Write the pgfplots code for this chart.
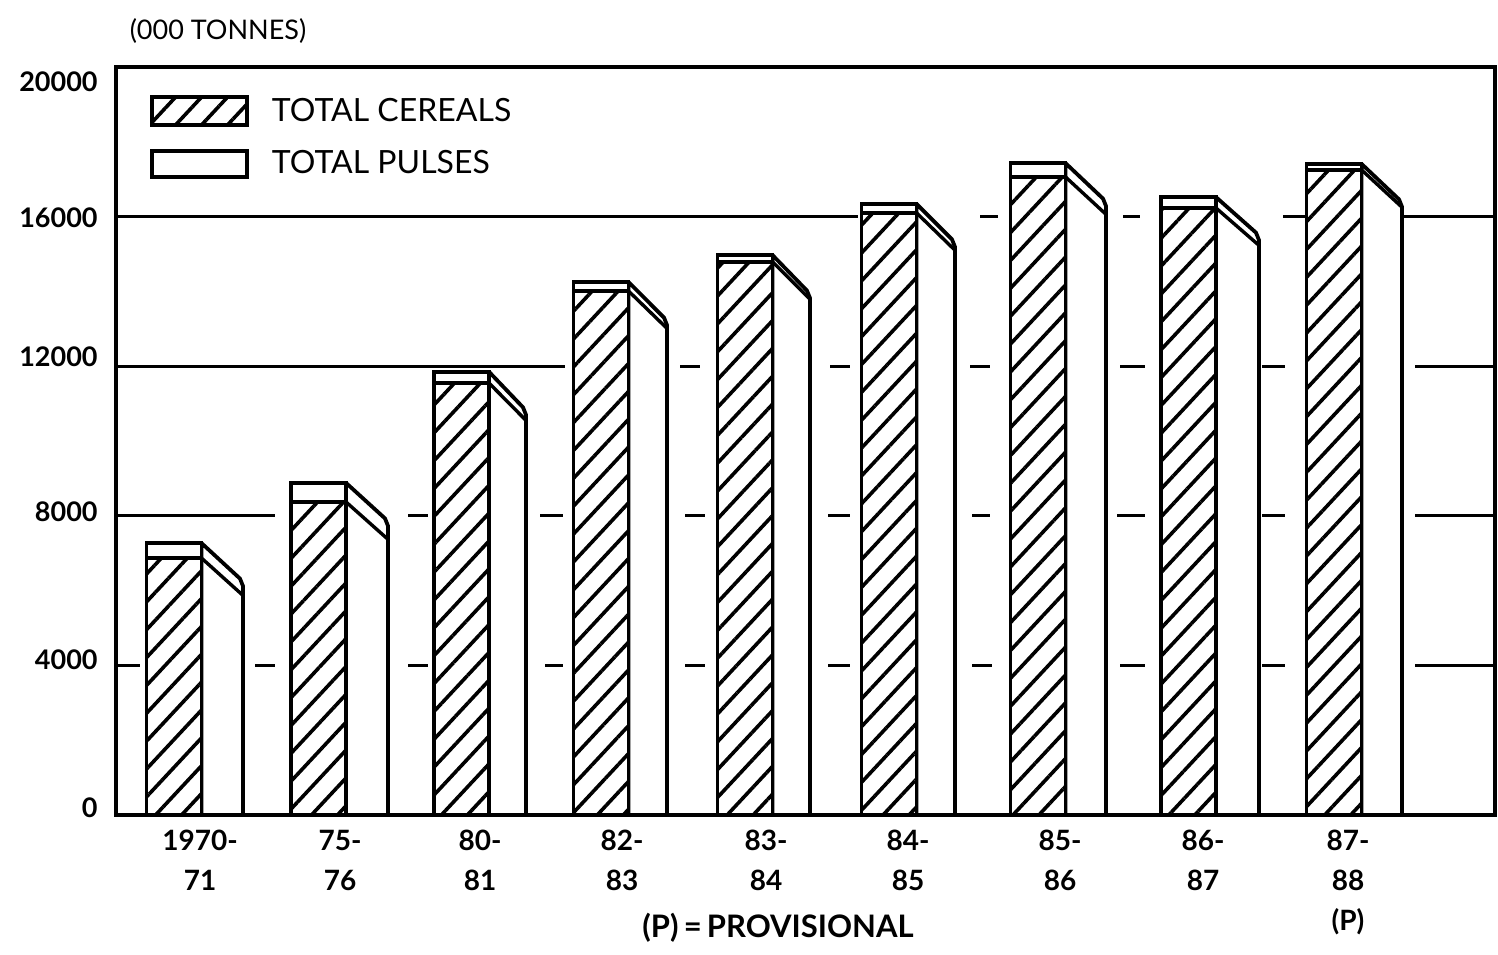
\documentclass[border=0pt]{standalone}
\usepackage{fontspec}
\setmainfont{Lato}
\usepackage{pgfplots}
\pgfplotsset{compat=1.18}
\usetikzlibrary{patterns.meta}
\tikzset{hatch/.style={fill=white, postaction={pattern={Lines[angle=47,distance=9.5pt,line width=1.8pt]}}}}
\begin{document}
\begin{tikzpicture}
\useasboundingbox (-58pt,-69.5pt) rectangle (691pt,407.5pt);
\begin{axis}[
  at={(0,0)}, anchor=south west,
  scale only axis, width=689.5pt, height=374pt,
  xmin=116, xmax=1495, ymin=0, ymax=20000,
  scaled y ticks=false, scaled x ticks=false,
  axis line style={line width=1.7pt},
  clip=false,
  major tick length=0pt,
  xtick={200,340,480,622,766,908,1060,1203,1348},
  xticklabels={{1970-\\71},{75-\\76},{80-\\81},{82-\\83},{83-\\84},{84-\\85},{85-\\86},{86-\\87},{87-\\88\\(P)}},
  xticklabel style={align=center, font=\bfseries\fontsize{14}{20}\selectfont, yshift=-4pt},
  ytick={187,4144,8102,12246,15963,19599},
  yticklabels={0,4000,8000,12000,16000,20000},
  yticklabel style={font=\bfseries\fontsize{13.5}{14}\selectfont, inner sep=0pt, xshift=-9pt},
  legend style={draw=none, fill=none, at={(axis cs:150,19251)}, anchor=north west, inner sep=0pt, row sep=11pt,
    /tikz/every odd column/.append style={column sep=11.5pt},
    nodes={inner sep=0pt, anchor=west, font=\fontsize{16}{16}\selectfont}},
  legend cell align=left,
]
% grid line segments (between the bars)
\addplot[line width=1.5pt, forget plot, unbounded coords=jump] coordinates {
 (116,4000) (140,4000) (141,nan) (255,4000) (275,4000) (276,nan) (408,4000) (428,4000) (429,nan)
 (545,4000) (563,4000) (564,nan) (685,4000) (705,4000) (706,nan) (828,4000) (850,4000) (851,nan)
 (972,4000) (992,4000) (993,nan) (1120,4000) (1145,4000) (1146,nan) (1262,4000) (1285,4000) (1286,nan)
 (1415,4000) (1495,4000)};
\addplot[line width=1.5pt, forget plot, unbounded coords=jump] coordinates {
 (116,8000) (275,8000) (276,nan) (408,8000) (428,8000) (429,nan)
 (540,8000) (563,8000) (564,nan) (685,8000) (705,8000) (706,nan) (828,8000) (850,8000) (851,nan)
 (972,8000) (990,8000) (991,nan) (1117,8000) (1145,8000) (1146,nan) (1262,8000) (1285,8000) (1286,nan)
 (1415,8000) (1495,8000)};
\addplot[line width=1.5pt, forget plot, unbounded coords=jump] coordinates {
 (116,12000) (565,12000) (566,nan) (680,12000) (700,12000) (701,nan) (830,12000) (850,12000) (851,nan)
 (970,12000) (990,12000) (991,nan) (1120,12000) (1145,12000) (1146,nan) (1262,12000) (1285,12000) (1286,nan)
 (1415,12000) (1495,12000)};
\addplot[line width=1.5pt, forget plot, unbounded coords=jump] coordinates {
 (116,16000) (858,16000) (859,nan) (980,16000) (998,16000) (999,nan) (1123,16000) (1140,16000) (1141,nan)
 (1283,16000) (1305,16000) (1306,nan) (1403,16000) (1495,16000)};
% side faces
\pgfplotsset{side/.style={fill=white, draw=black, line width=1.9pt, line join=round, forget plot}}
\addplot[side] coordinates {(201.5,0) (201.5,7270) (240,6320) (243,6120) (243,0)} -- cycle;
\addplot[side] coordinates {(346,0) (346,8880) (385,7930) (388,7730) (388,0)} -- cycle;
\addplot[side] coordinates {(489,0) (489,11850) (523,10900) (526,10700) (526,0)} -- cycle;
\addplot[side] coordinates {(628.5,0) (628.5,14250) (664,13300) (667,13100) (667,0)} -- cycle;
\addplot[side] coordinates {(772.5,0) (772.5,14970) (807,14020) (810,13820) (810,0)} -- cycle;
\addplot[side] coordinates {(916.5,0) (916.5,16340) (952,15390) (955,15190) (955,0)} -- cycle;
\addplot[side] coordinates {(1065.5,0) (1065.5,17430) (1103,16480) (1106,16280) (1106,0)} -- cycle;
\addplot[side] coordinates {(1216,0) (1216,16520) (1256,15570) (1259,15370) (1259,0)} -- cycle;
\addplot[side] coordinates {(1361.5,0) (1361.5,17410) (1399,16460) (1402,16260) (1402,0)} -- cycle;
% band lines on the side faces
\addplot[line width=1.7pt, forget plot, unbounded coords=jump] coordinates {
 (201.5,6870) (243,5870) (244,nan) (346,8370) (388,7370) (389,nan) (489,11550) (526,10550) (527,nan)
 (628.5,14010) (667,13010) (668,nan) (772.5,14790) (810,13790) (811,nan) (916.5,16100) (955,15100) (956,nan)
 (1065.5,17060) (1106,16060) (1107,nan) (1216,16230) (1259,15230) (1260,nan) (1361.5,17250) (1402,16250)};
% front: total (pulses on top)
\addplot[ybar, bar width=55, bar shift=0pt, fill=white, draw=black, line width=1.9pt, forget plot] coordinates {
 (174,7270) (318.5,8880) (461.5,11850) (601,14250) (745,14970) (889,16340) (1038,17430) (1188.5,16520) (1334,17410)};
% front: cereals
\addplot[ybar, bar width=55, bar shift=0pt, hatch, draw=black, line width=1.9pt, forget plot] coordinates {
 (174,6870) (318.5,8370) (461.5,11550) (601,14010) (745,14790) (889,16100) (1038,17060) (1188.5,16230) (1334,17250)};
\addlegendimage{legend image code/.code={\draw[line width=1.8pt, hatch] (0pt,-7pt) rectangle (47.5pt,7pt);}}
\addlegendentry{TOTAL CEREALS}
\addlegendimage{legend image code/.code={\draw[line width=1.8pt, fill=white] (0pt,-6.5pt) rectangle (47.5pt,6.5pt);}}
\addlegendentry{TOTAL PULSES}
\node[font=\fontsize{13.5}{14}\selectfont] at (axis cs:218,20963) {(000 TONNES)};
\node[font=\bfseries\fontsize{15.5}{16}\selectfont] at (axis cs:778,-3021) {(P)\,=\,PROVISIONAL};
\end{axis}
\end{tikzpicture}
\end{document}
